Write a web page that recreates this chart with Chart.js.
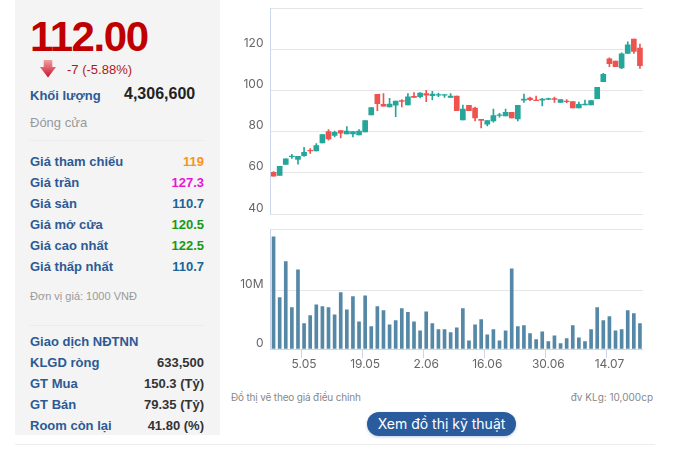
<!DOCTYPE html>
<html>
<head>
<meta charset="utf-8">
<title>Đồ thị giá</title>
<script src="https://cdn.jsdelivr.net/npm/chart.js@4/dist/chart.umd.min.js"></script>
<style>
    html, body { margin: 0; padding: 0; background: #fff; overflow: hidden; }
    body { width: 679px; height: 453px; position: relative; font-family: "Liberation Sans", Arial, sans-serif; }
    #panel { position: absolute; left: 15px; top: 0; width: 205px; height: 435px; background: #f4f4f5; }
    .t { position: absolute; height: 20px; line-height: 20px; white-space: nowrap; font-size: 13px; }
    .l { left: 30px; color: #2d5a94; font-weight: bold; }
    .r { right: 475px; font-weight: bold; }
    .sep { position: absolute; left: 30px; width: 175px; height: 1px; background: #ececec; }
    canvas { position: absolute; }
    .note { font-family: Inter, sans-serif; font-size: 10px; color: #888; }
    #btn {
        position: absolute; left: 367px; top: 412px; width: 149px; height: 24px; border-radius: 12px;
        background: #2a5b9c; color: #fff; text-align: center; line-height: 24px; font-size: 14px;
        font-family: Inter, sans-serif; box-shadow: 0 1px 3px rgba(42, 91, 156, .3);
    }
</style>
</head>
<body>
<div id="panel"></div>
<div class="t" style="left:30px;top:14px;height:46px;line-height:46px;font-size:42px;font-weight:bold;color:#c00000;letter-spacing:-1.4px">112.00</div>
<svg style="position:absolute;left:40px;top:60px" width="16" height="18" viewBox="0 0 16 18">
    <defs><linearGradient id="arrow" x1="0" y1="0" x2="0" y2="1"><stop offset="0" stop-color="#f2a0a0"/><stop offset="1" stop-color="#c8102e"/></linearGradient></defs>
    <path d="M3.7 0H12.3V7H16L8 17.5 0 7H3.7Z" fill="url(#arrow)"/>
</svg>
<div class="t" style="left:67px;top:60px;color:#b01818">-7 (-5.88%)</div>
<div class="t l" style="top:86px">Khối lượng</div>
<div class="t" style="left:124px;top:84px;font-size:16px;font-weight:bold;color:#222">4,306,600</div>
<div class="t" style="left:30px;top:113px;color:#999">Đóng cửa</div>
<div class="sep" style="top:140px"></div>

<div class="t l" style="top:152px">Giá tham chiếu</div><div class="t r" style="top:152px;color:#f7941d">119</div>
<div class="t l" style="top:173px">Giá trần</div><div class="t r" style="top:173px;color:#e815d8">127.3</div>
<div class="t l" style="top:194px">Giá sàn</div><div class="t r" style="top:194px;color:#1a6496">110.7</div>
<div class="t l" style="top:215px">Giá mở cửa</div><div class="t r" style="top:215px;color:#169a16">120.5</div>
<div class="t l" style="top:236px">Giá cao nhất</div><div class="t r" style="top:236px;color:#169a16">122.5</div>
<div class="t l" style="top:257px">Giá thấp nhất</div><div class="t r" style="top:257px;color:#1a6496">110.7</div>
<div class="t" style="left:30px;top:286px;font-size:11px;color:#999">Đơn vị giá: 1000 VNĐ</div>
<div class="sep" style="top:325px"></div>

<div class="t l" style="top:332px">Giao dịch NĐTNN</div>
<div class="t l" style="top:353px">KLGD ròng</div><div class="t r" style="top:353px;color:#333">633,500</div>
<div class="t l" style="top:374px">GT Mua</div><div class="t r" style="top:374px;color:#333">150.3 (Tỷ)</div>
<div class="t l" style="top:395px">GT Bán</div><div class="t r" style="top:395px;color:#333">79.35 (Tỷ)</div>
<div class="t l" style="top:416px">Room còn lại</div><div class="t r" style="top:416px;color:#333">41.80 (%)</div>

<canvas id="price-chart" width="408" height="222" style="left:235px;top:0"></canvas>
<canvas id="volume-chart" width="408" height="150" style="left:235px;top:225px"></canvas>

<div class="t note" style="left:231px;top:387px;letter-spacing:-.17px">Đồ thị vẽ theo giá điều chỉnh</div>
<div class="t note" style="right:26px;top:387px">đv KLg: 10,000cp</div>
<div id="btn">Xem đồ thị kỹ thuật</div>
<div style="position:absolute;left:15px;top:444px;width:640px;height:1px;background:#ececec"></div>

<script>
const dates = [
    "24.04", "25.04", "28.04", "29.04", "2.05", "5.05", "6.05", "7.05", "8.05", "9.05",
    "12.05", "13.05", "14.05", "15.05", "16.05", "19.05", "20.05", "21.05", "22.05", "23.05",
    "26.05", "27.05", "28.05", "29.05", "30.05", "2.06", "3.06", "4.06", "5.06", "6.06",
    "9.06", "10.06", "11.06", "12.06", "13.06", "16.06", "17.06", "18.06", "19.06", "20.06",
    "23.06", "24.06", "25.06", "26.06", "27.06", "30.06", "1.07", "2.07", "3.07", "4.07",
    "7.07", "8.07", "9.07", "10.07", "11.07", "14.07", "15.07", "16.07", "17.07", "18.07", "21.07",
];
const tickDates = ["5.05", "19.05", "2.06", "16.06", "30.06", "14.07"];

const opens = [
    60.2, 58.7, 64.1, 67.8, 66.5, 68.3, 70.9, 70.6, 74.5, 80.0,
    78.2, 80.5, 78.9, 78.9, 78.4, 79.8, 88.1, 98.1, 93.2, 92.0,
    92.8, 95.0, 93.0, 97.1, 96.9, 98.5, 97.4, 97.7, 97.7, 96.6,
    97.2, 85.7, 92.7, 91.4, 86.0, 83.6, 85.2, 87.8, 87.6, 89.3,
    86.2, 95.3, 96.3, 95.3, 95.3, 95.6, 96.0, 94.2, 94.8, 94.6,
    91.5, 93.0, 93.0, 96.0, 104.2, 115.3, 114.2, 110.9, 117.9, 124.9, 120.5,
];
const closes = [
    58.4, 63.1, 66.8, 68.1, 68.0, 69.9, 70.6, 73.2, 78.5, 76.4,
    79.7, 79.2, 80.2, 80.0, 80.2, 85.4, 91.7, 93.5, 92.4, 93.3,
    94.8, 94.6, 96.9, 96.6, 98.7, 97.7, 98.2, 98.0, 98.0, 97.2,
    90.1, 90.9, 90.2, 86.7, 85.4, 85.4, 87.8, 88.1, 89.4, 86.7,
    92.7, 95.8, 95.5, 95.0, 95.8, 96.0, 95.6, 95.6, 94.5, 91.5,
    93.2, 93.3, 95.1, 101.5, 107.8, 113.0, 111.5, 117.7, 122.1, 118.9, 112.0,
];
const highs = [
    60.6, 63.1, 66.8, 69.0, 68.0, 72.4, 71.7, 74.2, 78.5, 81.0,
    80.2, 80.5, 82.4, 80.0, 81.0, 85.4, 91.7, 98.1, 98.5, 96.2,
    94.8, 95.5, 98.5, 99.0, 99.0, 100.0, 99.5, 98.7, 98.0, 98.5,
    97.2, 92.9, 92.7, 91.9, 86.0, 85.4, 90.9, 88.9, 90.9, 89.3,
    92.7, 98.2, 96.8, 97.2, 96.1, 96.3, 96.8, 95.6, 95.5, 94.6,
    94.3, 95.3, 95.1, 101.5, 108.3, 115.8, 114.2, 118.2, 123.6, 124.9, 122.5,
];
const lows = [
    58.4, 58.7, 64.1, 67.0, 64.2, 68.0, 69.4, 70.6, 74.5, 75.9,
    77.4, 76.9, 78.9, 77.4, 78.4, 79.8, 88.1, 90.1, 92.4, 92.0,
    87.2, 92.0, 93.0, 96.6, 96.4, 94.5, 95.4, 96.9, 96.6, 96.6,
    90.1, 85.7, 90.2, 85.2, 81.8, 82.8, 84.6, 87.0, 87.6, 86.7,
    85.2, 94.2, 95.0, 95.0, 92.5, 95.5, 94.2, 94.2, 94.0, 91.5,
    91.5, 93.0, 93.0, 96.0, 104.2, 111.5, 111.5, 110.6, 117.9, 117.9, 110.7,
];
// million shares
const volumes = [
    19.0, 8.7, 14.8, 7.0, 13.4, 4.3, 5.65, 7.5, 7.2, 7.0,
    5.8, 9.55, 6.65, 8.9, 4.6, 9.0, 3.8, 7.2, 6.5, 4.1,
    4.8, 6.85, 6.2, 4.6, 3.1, 6.3, 4.3, 3.3, 3.3, 2.77,
    3.6, 6.85, 1.4, 4.1, 5.0, 2.4, 3.3, 1.4, 3.1, 13.6,
    3.8, 3.95, 2.6, 1.6, 2.9, 1.25, 2.25, 0.9, 1.75, 3.95,
    1.9, 1.25, 3.3, 7.0, 4.8, 5.5, 3.1, 3.3, 6.5, 6.0, 4.3,
];
const priceTicks = [40, 60, 80, 100, 120, 140];

const upColor = "#26a69a";
const downColor = "#ef5350";
const candleColors = opens.map(function(o, i) {
    return closes[i] >= o ? upColor : downColor;
});
const tickFont = { family: "Inter, sans-serif", size: 12, lineHeight: 1 };

// labels must not push the plot area around, its edges are set by the layout padding
function noLabelPadding(scale) {
    scale.paddingTop = 0;
    scale.paddingBottom = 0;
    scale.paddingLeft = 0;
    scale.paddingRight = 0;
}

/*price chart*/
new Chart(document.querySelector("#price-chart"), {
    type: "bar",
    data: {
        labels: dates,
        datasets: [{
            data: opens.map(function(o, i) { return [o, closes[i]]; }),
            backgroundColor: candleColors,
            barThickness: 5,
            grouped: false,
            order: 1,
        }, {
            data: lows.map(function(l, i) { return [l, highs[i]]; }),
            backgroundColor: candleColors,
            barThickness: 1,
            grouped: false,
            order: 2,
        }, ],
    },
    options: {
        responsive: false,
        animation: false,
        layout: { padding: { top: 8, bottom: 8 } },
        plugins: { legend: { display: false }, tooltip: { enabled: false } },
        scales: {
            x: { display: false },
            y: {
                min: 40,
                max: 140,
                afterFit: function(scale) {
                    scale.width = 35.5;
                    noLabelPadding(scale);
                },
                afterBuildTicks: function(scale) {
                    scale.ticks = priceTicks.map(function(v) { return { value: v }; });
                },
                grid: { color: "#e6e6e6", drawTicks: false },
                border: { color: "#ccd6eb" },
                ticks: {
                    padding: 7,
                    color: "#666",
                    font: tickFont,
                    // second empty line lifts the label above its grid line
                    callback: function(value) { return value == 140 ? "" : [String(value), ""]; },
                },
            },
        },
    },
});

/*volume chart*/
new Chart(document.querySelector("#volume-chart"), {
    type: "bar",
    data: {
        labels: dates,
        datasets: [{
            data: volumes,
            backgroundColor: "#5488a6",
            barThickness: 3,
        }, ],
    },
    options: {
        responsive: false,
        animation: false,
        layout: { padding: { top: 4 } },
        plugins: { legend: { display: false }, tooltip: { enabled: false } },
        scales: {
            x: {
                afterFit: function(scale) {
                    scale.height = 26;
                    noLabelPadding(scale);
                },
                grid: {
                    drawOnChartArea: false,
                    tickLength: 9,
                    tickColor: function(ctx) {
                        return tickDates.includes(dates[ctx.index]) ? "#ccd6eb" : "transparent";
                    },
                },
                border: { color: "#ccd6eb" },
                ticks: {
                    autoSkip: false,
                    maxRotation: 0,
                    padding: -1,
                    color: "#666",
                    font: { family: "Inter, sans-serif", size: 12 },
                    callback: function(value, index) {
                        return tickDates.includes(dates[index]) ? dates[index] : "";
                    },
                },
            },
            y: {
                min: 0,
                max: 20.34,
                afterFit: function(scale) {
                    scale.width = 35.5;
                    noLabelPadding(scale);
                },
                afterBuildTicks: function(scale) {
                    scale.ticks = [{ value: 0 }, { value: 10 }, { value: 20.34 }];
                },
                grid: { color: "#e6e6e6", drawTicks: false },
                border: { color: "#ccd6eb" },
                ticks: {
                    padding: 7,
                    color: "#666",
                    font: tickFont,
                    callback: function(value) {
                        if (value == 0) return ["0", ""];
                        return value == 10 ? ["10M", ""] : "";
                    },
                },
            },
        },
    },
});
</script>
</body>
</html>
